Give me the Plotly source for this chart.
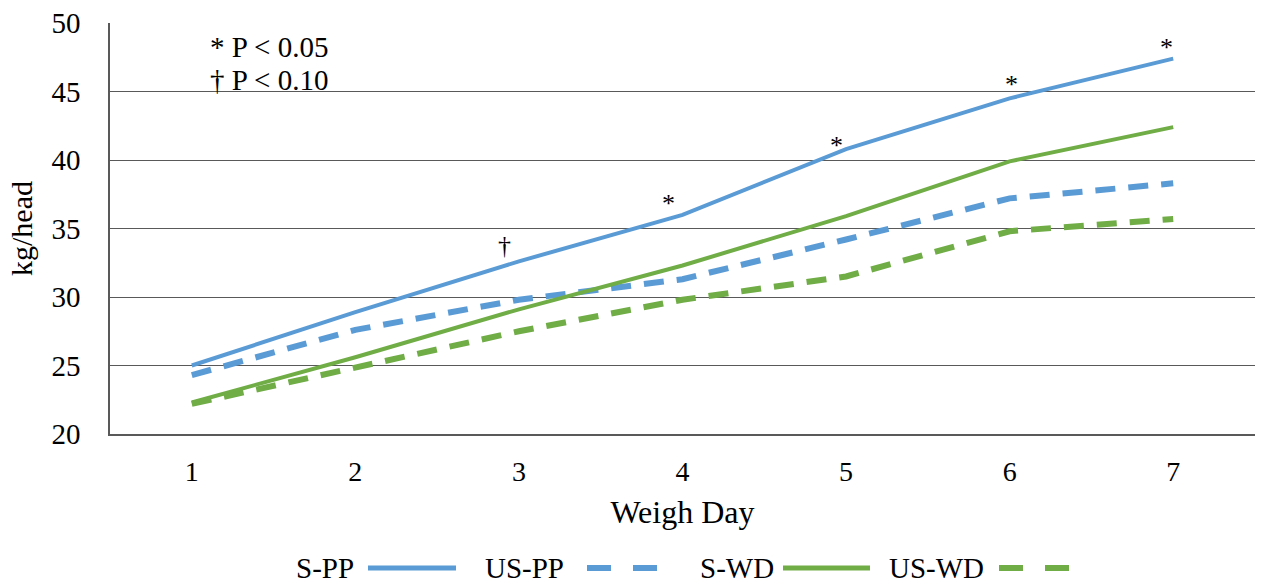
import plotly.graph_objects as go

weigh_day = ["1", "2", "3", "4", "5", "6", "7"]
s_pp = [25.0, 28.9, 32.6, 36.0, 40.8, 44.5, 47.4]
us_pp = [24.3, 27.6, 29.8, 31.3, 34.2, 37.2, 38.3]
s_wd = [22.3, 25.6, 29.1, 32.3, 35.9, 39.9, 42.4]
us_wd = [22.2, 24.9, 27.5, 29.8, 31.5, 34.8, 35.7]
series_names = ["S-PP", "US-PP", "S-WD", "US-WD"]
sig_marks = ["", "", "†", "*", "*", "*", "*"]
y_ticks = [20, 25, 30, 35, 40, 45, 50]

BLUE = "#5B9BD5"
GREEN = "#70AD47"
FONT = "Liberation Serif"
GRID = "#595959"

# pixel offsets of the significance labels (layout only)
mark_offsets = [(0, 0), (0, 0), (-14, 16), (-14, 11), (-10, 4), (2, 14), (-7, 11)]

styles = {
    "S-PP": dict(color=BLUE, width=4, dash="solid"),
    "US-PP": dict(color=BLUE, width=6, dash="20px,13px"),
    "S-WD": dict(color=GREEN, width=4, dash="solid"),
    "US-WD": dict(color=GREEN, width=6, dash="20px,13px"),
}
values = {"S-PP": s_pp, "US-PP": us_pp, "S-WD": s_wd, "US-WD": us_wd}

fig = go.Figure()
for name in series_names:
    fig.add_trace(go.Scatter(
        x=weigh_day, y=values[name], mode="lines", name=name,
        line=styles[name], showlegend=False,
    ))

# significance marks above S-PP (category index positions)
for i, (yv, m) in enumerate(zip(s_pp, sig_marks)):
    if m:
        dx, dy = mark_offsets[i]
        fig.add_annotation(x=i, y=yv, text=m, showarrow=False,
                           xshift=dx, yshift=dy,
                           font=dict(family=FONT, size=26, color="black"))

# key text
fig.add_annotation(xref="paper", yref="paper", x=(208 - 110) / 1145, y=(434 - 47) / 411,
                   text="* P < 0.05", showarrow=False, xanchor="left", yanchor="middle",
                   font=dict(family=FONT, size=29, color="black"))
fig.add_annotation(xref="paper", yref="paper", x=(208 - 110) / 1145, y=(434 - 80) / 411,
                   text="† P < 0.10", showarrow=False, xanchor="left", yanchor="middle",
                   font=dict(family=FONT, size=29, color="black"))

# custom legend (text followed by line sample)
def px_x(p):
    return (p - 110) / 1145

def px_y(p):
    return (434 - p) / 411

leg_text_end = [356, 566, 776, 986]
leg_line = [(368, 456), (587, 657), (783, 870), (999, 1070)]
leg_y = 568
for name, te, (l0, l1) in zip(series_names, leg_text_end, leg_line):
    fig.add_annotation(xref="paper", yref="paper", x=px_x(te), y=px_y(leg_y),
                       text=name, showarrow=False, xanchor="right", yanchor="middle",
                       font=dict(family=FONT, size=29, color="black"))
    st = styles[name]
    fig.add_shape(type="line", xref="paper", yref="paper",
                  x0=px_x(l0), x1=px_x(l1), y0=px_y(leg_y), y1=px_y(leg_y),
                  line=dict(color=st["color"], width=5 if st["dash"] == "solid" else 6,
                            dash="24px,22px" if st["dash"] != "solid" else "solid"))

fig.update_layout(
    width=1262, height=586,
    margin=dict(l=110, r=7, t=23, b=152),
    paper_bgcolor="white", plot_bgcolor="white",
    font=dict(family=FONT, size=28, color="black"),
)
fig.update_xaxes(
    type="category", range=[-0.5, 6.5],
    showgrid=False, showline=True, linecolor=GRID, linewidth=1.5,
    ticks="", tickfont=dict(family=FONT, size=28, color="black"),
    ticklabelstandoff=12,
    title=dict(text="Weigh Day", font=dict(family=FONT, size=32, color="black"), standoff=14),
)
fig.update_yaxes(
    range=[20, 50], tickvals=y_ticks,
    showgrid=True, gridcolor=GRID, gridwidth=1.3,
    showline=True, linecolor=GRID, linewidth=1.5,
    zeroline=False, ticks="", ticklabelstandoff=22,
    tickfont=dict(family=FONT, size=29, color="black"),
    title=dict(text="kg/head", font=dict(family=FONT, size=30, color="black"), standoff=10),
)

fig.write_html("out.html")
